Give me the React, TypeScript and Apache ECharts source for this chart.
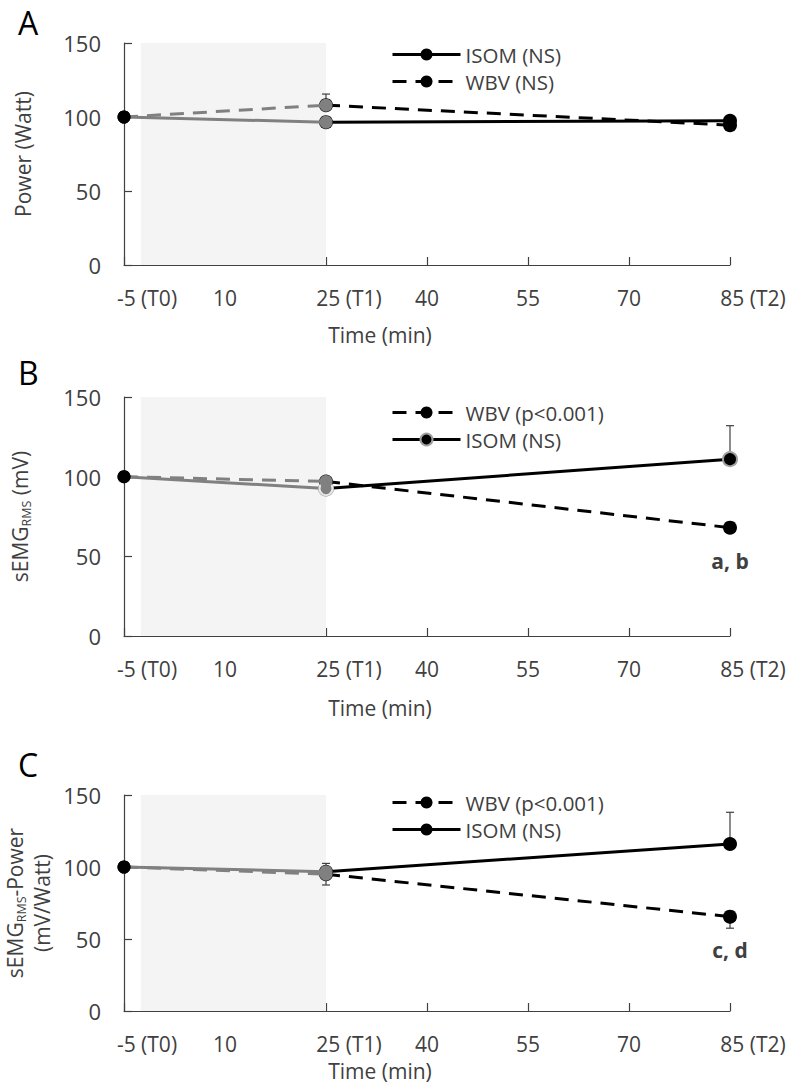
import React, { useEffect, useRef } from "react";
import * as echarts from "echarts";

// ---------- data ----------
const TIMES = [-5, 25, 85]; // T0, T1, T2 (min)
const TIME_TAGS: Record<string, string> = { "-5": "(T0)", "25": "(T1)", "85": "(T2)" };
const X_MIN = -5;
const X_MAX = 85;
const X_STEP = 15;
const OFFSET = 5; // axis runs 0..90 so ticks start on a multiple of the step
const SHADE_FROM = -2.5;
const SHADE_TO = 25;
const Y_MAX = 150;
const Y_STEP = 50;

// Panel A: Power (Watt)
const POWER_ISOM = [100, 96.5, 97.5];
const POWER_WBV = [100, 108, 94.5];
const POWER_ISOM_SD_UP = [0, 0, 0];
const POWER_ISOM_SD_DOWN = [0, 0, 0];
const POWER_WBV_SD_UP = [0, 7.5, 0];
const POWER_WBV_SD_DOWN = [0, 0, 0];

// Panel B: sEMG RMS (mV)
const EMG_ISOM = [100, 92.5, 111];
const EMG_WBV = [100, 97, 68];
const EMG_ISOM_SD_UP = [0, 0, 21];
const EMG_ISOM_SD_DOWN = [0, 0, 0];
const EMG_WBV_SD_UP = [0, 0, 0];
const EMG_WBV_SD_DOWN = [0, 0, 0];

// Panel C: sEMG RMS - Power (mV/Watt)
const RATIO_ISOM = [100, 96.7, 116];
const RATIO_WBV = [100, 95, 65.5];
const RATIO_ISOM_SD_UP = [0, 0, 22];
const RATIO_ISOM_SD_DOWN = [0, 0, 0];
const RATIO_WBV_SD_UP = [0, 7.5, 0];
const RATIO_WBV_SD_DOWN = [0, 7.5, 8];

// ---------- styles ----------
const FONT = "Open Sans";
const FS = 21;
const TXT = "#404040";
const GREY = "#808080";
const DASH = [14, 9];

type PanelCfg = {
  letter: string;
  yName: string;
  yRich: any;
  isomName: string;
  wbvName: string;
  legendOrder: string[];
  isom: number[];
  wbv: number[];
  isomUp: number[];
  isomDown: number[];
  wbvUp: number[];
  wbvDown: number[];
  wbvNote?: string;
  isomRing?: boolean;
  gridTop: number;
  gridHeight: number;
  letterTop: number;
  legendTop: number;
  nameGapX: number;
  nameGapY: number;
};

const px = (t: number) => t + OFFSET;

function errData(vals: number[], up: number[], down: number[]) {
  const out: number[][] = [];
  TIMES.forEach((t, i) => {
    if (up[i] > 0 || down[i] > 0) out.push([px(t), vals[i] - down[i], vals[i] + up[i]]);
  });
  return out;
}

function buildOption(c: PanelCfg): any {
  const errorSeries = (name: string, data: number[][]) => ({
    type: "custom",
    name,
    z: 1,
    silent: true,
    data,
    renderItem: (params: any, api: any) => {
      const x = api.value(0);
      const lo = api.coord([x, api.value(1)]);
      const hi = api.coord([x, api.value(2)]);
      const st = { stroke: "#404040", lineWidth: 1.2 };
      return {
        type: "group",
        children: [
          { type: "line", shape: { x1: lo[0], y1: lo[1], x2: hi[0], y2: hi[1] }, style: st },
          { type: "line", shape: { x1: lo[0] - 4, y1: lo[1], x2: lo[0] + 4, y2: lo[1] }, style: st },
          { type: "line", shape: { x1: hi[0] - 4, y1: hi[1], x2: hi[0] + 4, y2: hi[1] }, style: st },
        ],
      };
    },
  });

  const isomItem = c.isomRing
    ? { color: "#000", borderColor: "#a0a0a0", borderWidth: 2 }
    : { color: "#000" };

  const blackSeg = (name: string, vals: number[], dashed: boolean, item: any, note?: string) => ({
    type: "line",
    name,
    z: 3,
    symbol: "circle",
    symbolSize: 14,
    lineStyle: { color: "#000", width: 3, type: dashed ? DASH : "solid" },
    itemStyle: item,
    data: [1, 2].map((i) => {
      const d: any = { value: [px(TIMES[i]), vals[i]] };
      if (note && i === 2) {
        d.label = {
          show: true,
          position: "bottom",
          distance: 16,
          formatter: note,
          fontFamily: FONT,
          fontSize: FS,
          fontWeight: "bold",
          color: TXT,
        };
      }
      return d;
    }),
  });

  const greySeg = (name: string, vals: number[], dashed: boolean, ring: boolean) => ({
    type: "line",
    name,
    z: 4,
    symbol: "circle",
    symbolSize: 13,
    lineStyle: { color: GREY, width: 3, type: dashed ? DASH : "solid" },
    itemStyle: { color: GREY },
    data: [
      { value: [px(TIMES[0]), vals[0]], itemStyle: { color: "#000" } },
      {
        value: [px(TIMES[1]), vals[1]],
        itemStyle: ring ? { color: GREY, borderColor: "#e8e8e8", borderWidth: 2 } : { color: GREY },
      },
    ],
  });

  return {
    animation: false,
    textStyle: { fontFamily: FONT },
    graphic: [
      {
        type: "text",
        left: 18,
        top: c.letterTop,
        style: { text: c.letter, fontFamily: FONT, fontSize: 32, fill: "#000" },
      },
    ],
    legend: {
      orient: "vertical",
      left: 386,
      top: c.legendTop,
      itemWidth: 68,
      itemHeight: 15,
      itemGap: 6,
      data: c.legendOrder,
      lineStyle: { width: 3 },
      textStyle: { fontFamily: FONT, fontSize: 20.5, color: TXT },
      selectedMode: false,
    },
    grid: {
      left: 124,
      right: 62,
      top: c.gridTop,
      height: c.gridHeight,
      outerBoundsMode: "none",
      containLabel: false,
    },
    xAxis: {
      type: "value",
      min: px(X_MIN),
      max: px(X_MAX),
      interval: X_STEP,
      name: "Time (min)",
      nameLocation: "middle",
      nameGap: c.nameGapX,
      nameTextStyle: { fontFamily: FONT, fontSize: FS, color: TXT, padding: [0, 94, 0, 0] },
      splitLine: { show: false },
      axisLine: { lineStyle: { color: "#404040", width: 1.2 } },
      axisTick: { inside: true, length: 8, lineStyle: { color: "#404040", width: 1.2 } },
      axisLabel: {
        margin: 22,
        color: TXT,
        fontFamily: FONT,
        fontSize: FS,
        formatter: (v: number) => {
          const t = Math.round(v - OFFSET);
          const tag = TIME_TAGS[String(t)];
          return tag ? `{p|}{n|${t}}{n| ${tag}}` : `{n|${t}}`;
        },
        rich: {
          n: { fontFamily: FONT, fontSize: FS, color: TXT },
          p: { width: 46 },
        },
      },
    },
    yAxis: {
      type: "value",
      min: 0,
      max: Y_MAX,
      interval: Y_STEP,
      name: c.yName,
      nameLocation: "middle",
      nameGap: c.nameGapY,
      nameTextStyle: { fontFamily: FONT, fontSize: FS, color: TXT, rich: c.yRich },
      splitLine: { show: false },
      axisLine: { show: true, lineStyle: { color: "#404040", width: 1.2 } },
      axisTick: { show: true, inside: true, length: 8, lineStyle: { color: "#404040", width: 1.2 } },
      axisLabel: { margin: 23, color: TXT, fontFamily: FONT, fontSize: 22 },
    },
    series: [
      {
        type: "line",
        name: "_shade",
        data: [],
        silent: true,
        markArea: {
          silent: true,
          itemStyle: { color: "#f4f4f4" },
          data: [[{ xAxis: px(SHADE_FROM), yAxis: 0 }, { xAxis: px(SHADE_TO), yAxis: Y_MAX }]],
        },
      },
      errorSeries("_errIsom", errData(c.isom, c.isomUp, c.isomDown)),
      errorSeries("_errWbv", errData(c.wbv, c.wbvUp, c.wbvDown)),
      blackSeg(c.isomName, c.isom, false, isomItem),
      blackSeg(c.wbvName, c.wbv, true, { color: "#000" }, c.wbvNote),
      greySeg("_isom0", c.isom, false, !!c.isomRing),
      greySeg("_wbv0", c.wbv, true, false),
    ],
  };
}

const SUB = {
  a: { fontFamily: FONT, fontSize: FS, color: TXT, lineHeight: 27 },
  s: { fontFamily: FONT, fontSize: 12.5, color: TXT, verticalAlign: "bottom", padding: [10, 0, 0, 0] },
};

const PANELS: { top: number; height: number; cfg: PanelCfg }[] = [
  {
    top: 0,
    height: 362,
    cfg: {
      letter: "A",
      yName: "Power (Watt)",
      yRich: {},
      isomName: "ISOM (NS)",
      wbvName: "WBV (NS)",
      legendOrder: ["ISOM (NS)", "WBV (NS)"],
      isom: POWER_ISOM,
      wbv: POWER_WBV,
      isomUp: POWER_ISOM_SD_UP,
      isomDown: POWER_ISOM_SD_DOWN,
      wbvUp: POWER_WBV_SD_UP,
      wbvDown: POWER_WBV_SD_DOWN,
      gridTop: 43,
      gridHeight: 222,
      letterTop: 6,
      legendTop: 39,
      nameGapX: 59,
      nameGapY: 91,
    },
  },
  {
    top: 345,
    height: 375,
    cfg: {
      letter: "B",
      yName: "{a|sEMG}{s|RMS}{a| (mV)}",
      yRich: SUB,
      isomName: "ISOM (NS)",
      wbvName: "WBV (p<0.001)",
      legendOrder: ["WBV (p<0.001)", "ISOM (NS)"],
      isom: EMG_ISOM,
      wbv: EMG_WBV,
      isomUp: EMG_ISOM_SD_UP,
      isomDown: EMG_ISOM_SD_DOWN,
      wbvUp: EMG_WBV_SD_UP,
      wbvDown: EMG_WBV_SD_DOWN,
      wbvNote: "a, b",
      isomRing: true,
      gridTop: 52,
      gridHeight: 239,
      letterTop: 11,
      legendTop: 52,
      nameGapX: 61,
      nameGapY: 91,
    },
  },
  {
    top: 720,
    height: 370,
    cfg: {
      letter: "C",
      yName: "{a|sEMG}{s|RMS}{a|-Power}\n{a|(mV/Watt)}",
      yRich: SUB,
      isomName: "ISOM (NS)",
      wbvName: "WBV (p<0.001)",
      legendOrder: ["WBV (p<0.001)", "ISOM (NS)"],
      isom: RATIO_ISOM,
      wbv: RATIO_WBV,
      isomUp: RATIO_ISOM_SD_UP,
      isomDown: RATIO_ISOM_SD_DOWN,
      wbvUp: RATIO_WBV_SD_UP,
      wbvDown: RATIO_WBV_SD_DOWN,
      wbvNote: "c, d",
      gridTop: 75,
      gridHeight: 216,
      letterTop: 28,
      legendTop: 67,
      nameGapX: 49,
      nameGapY: 69,
    },
  },
];

function Panel({ top, height, cfg }: { top: number; height: number; cfg: PanelCfg }) {
  const ref = useRef<HTMLDivElement>(null);
  useEffect(() => {
    if (!ref.current) return;
    const chart = echarts.init(ref.current, undefined, { renderer: "svg" });
    chart.setOption(buildOption(cfg));
    return () => chart.dispose();
  }, [cfg]);
  return (
    <div
      ref={ref}
      style={{ position: "absolute", left: 0, top, width: 792, height }}
    />
  );
}

export default function App() {
  return (
    <div style={{ position: "absolute", left: 0, top: 0, width: 792, height: 1090, background: "#fff" }}>
      {PANELS.map((p) => (
        <Panel key={p.cfg.letter} top={p.top} height={p.height} cfg={p.cfg} />
      ))}
    </div>
  );
}
